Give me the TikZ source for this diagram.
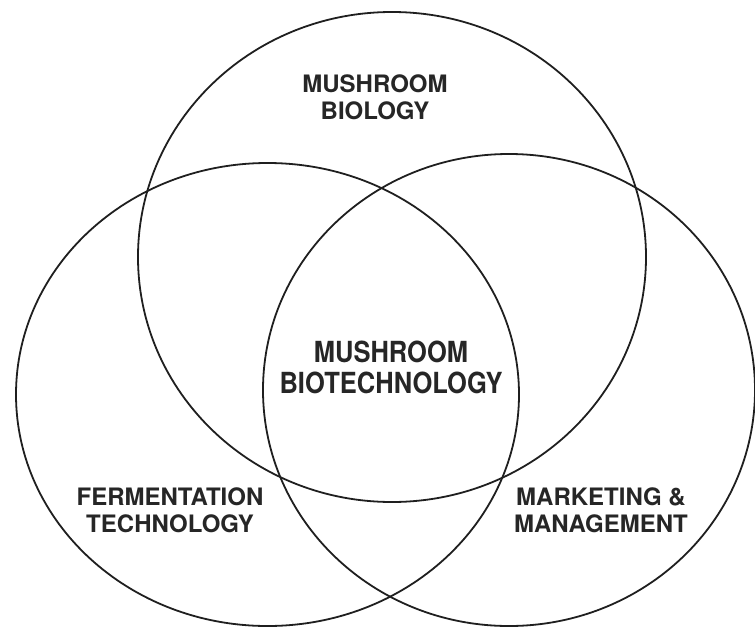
\documentclass[tikz,border=0pt]{standalone}
\usepackage{fontspec}
\setmainfont{TeX Gyre Heros}
\begin{document}
\begin{tikzpicture}[x=1pt,y=-1pt,
  ring/.style={draw=black!88,line width=1.8pt},
  lbl/.style={font=\bfseries\fontsize{24}{27.5}\selectfont,text=black!85,align=center,inner sep=0pt},
  core/.style={font=\bfseries\fontsize{25.5}{27}\selectfont,text=black!85,inner sep=0pt}]
\useasboundingbox (0,0) rectangle (755,627);
% the three overlapping fields
\draw[ring] (392,257) ellipse [x radius=254, y radius=245];
\draw[ring] (267.5,394.5) ellipse [x radius=251.5, y radius=231.5];
\draw[ring] (509,390) ellipse [x radius=246, y radius=236];
% field names
\node[lbl] (bio) at (375,97) {MUSHROOM\\BIOLOGY};
\node[lbl] (fer) at (170,510) {FERMENTATION\\TECHNOLOGY};
\node[lbl] (mkt) at (601,510) {MARKETING \&\\MANAGEMENT};
% the shared core, set a little taller than wide
\node[core] (bt) at (391,372) {\scalebox{1}[1.14]{\begin{tabular}{@{}c@{}}MUSHROOM\\BIOTECHNOLOGY\end{tabular}}};
\end{tikzpicture}
\end{document}
